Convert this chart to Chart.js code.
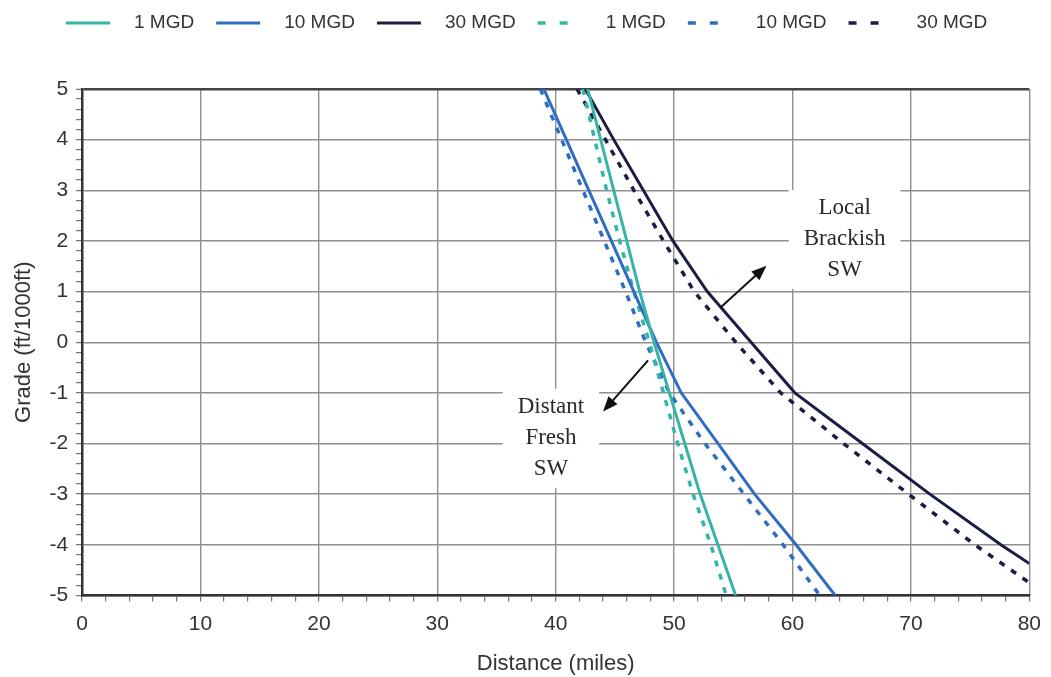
<!DOCTYPE html>
<html>
<head>
<meta charset="utf-8">
<title>Grade vs distance</title>
<script src="https://cdn.jsdelivr.net/npm/chart.js@4.4.1/dist/chart.umd.min.js"></script>
<style>
  body { margin: 0; background: #fff; }
  #chart { display: block; }
</style>
</head>
<body>
<canvas id="chart" width="1051" height="677"></canvas>
<script>
const gradeSteps = [5, 4, 3, 2, 1, 0, -1, -2, -3, -4, -5];

// distance (miles) for each grade step
const dist1Solid = [42.7, 43.8, 44.9, 46.0, 47.1, 48.3, 49.6, 50.9, 52.2, 53.7, 55.2];
const dist10Solid = [39.0, 40.9, 42.8, 44.7, 46.6, 48.5, 50.6, 53.7, 56.8, 60.3, 63.6];
const dist1Dashed = [42.3, 43.3, 44.3, 45.4, 46.6, 47.9, 49.1, 50.3, 51.6, 53.1, 54.4];
const dist10Dashed = [38.7, 40.5, 42.3, 44.1, 45.9, 47.6, 49.6, 52.6, 55.9, 59.2, 62.3];

// the 30 MGD curves leave the plot through the right edge
const grade30Solid = [5, 4, 3, 2, 1, 0, -1, -2, -3, -4, -4.37];
const dist30Solid = [42.5, 44.9, 47.4, 49.9, 52.8, 56.5, 60.2, 65.9, 71.6, 77.6, 80];
const grade30Dashed = [5, 4, 3, 2, 1, 0, -1, -2, -3, -4, -4.75];
const dist30Dashed = [41.8, 44.2, 46.6, 49.1, 51.7, 55.2, 59.0, 64.3, 69.8, 75.4, 80];

const seriesLabels = ['1 MGD', '10 MGD', '30 MGD', '1 MGD', '10 MGD', '30 MGD'];

// annotations, in data units
const localNote = { x: 64.4, y: 2.03, lines: ['Local', 'Brackish', 'SW'] };
const localArrow = { x0: 53.9, y0: 0.68, x1: 57.8, y1: 1.51 };
const distantNote = { x: 39.6, y: -1.9, lines: ['Distant', 'Fresh', 'SW'] };
const distantArrow = { x0: 47.8, y0: -0.36, x1: 44.0, y1: -1.37 };

const TEAL = '#35b5a8';
const BLUE = '#2f6dc2';
const NAVY = '#1b1e44';
const SANS = '"Liberation Sans", Arial, sans-serif';
const SERIF = '"Liberation Serif", "Times New Roman", serif';

function points(xs, ys) {
  return xs.map((x, i) => ({ x: x, y: ys[i] }));
}

function line(label, data, color, dashed) {
  return {
    label: label,
    data: data,
    showLine: true,
    borderColor: color,
    backgroundColor: color,
    borderWidth: dashed ? 3.5 : 3,
    borderDash: dashed ? [6, 8] : [],
    pointRadius: 0,
    tension: 0
  };
}

const isWhole = (v) => Math.abs(v - Math.round(v)) < 1e-6;

// legend drawn as short line swatches like the original figure
const lineLegend = {
  id: 'lineLegend',
  afterDraw(chart) {
    const ctx = chart.ctx;
    const y = 23;
    let x = 66;
    ctx.save();
    ctx.font = '19px ' + SANS;
    ctx.textBaseline = 'middle';
    chart.data.datasets.forEach((ds) => {
      ctx.strokeStyle = ds.borderColor;
      ctx.lineWidth = ds.borderWidth;
      // the swatch dashes are a little longer than in the plot
      ctx.setLineDash(ds.borderDash.length ? [8, 14] : []);
      ctx.beginPath();
      ctx.moveTo(x, y);
      ctx.lineTo(x + 44, y);
      ctx.stroke();
      x += 44 + 24;
      ctx.fillStyle = '#333';
      ctx.fillText(ds.label, x, y);
      x += ctx.measureText(ds.label).width + 22;
    });
    ctx.restore();
  }
};

function drawNoteBox(chart, note) {
  const ctx = chart.ctx;
  const cx = chart.scales.x.getPixelForValue(note.x);
  const cy = chart.scales.y.getPixelForValue(note.y);
  const lh = 31;
  ctx.font = '23px ' + SERIF;
  const w = Math.max(...note.lines.map((t) => ctx.measureText(t).width)) + 30;
  const h = lh * note.lines.length + 6;
  ctx.fillStyle = '#fff';
  ctx.fillRect(cx - w / 2, cy - h / 2, w, h);
}

function drawNoteText(chart, note) {
  const ctx = chart.ctx;
  const cx = chart.scales.x.getPixelForValue(note.x);
  const cy = chart.scales.y.getPixelForValue(note.y);
  const lh = 31;
  ctx.font = '23px ' + SERIF;
  ctx.fillStyle = '#2a2a2a';
  ctx.textAlign = 'center';
  ctx.textBaseline = 'middle';
  note.lines.forEach((t, i) => {
    ctx.fillText(t, cx, cy + (i - (note.lines.length - 1) / 2) * lh);
  });
}

function drawArrow(chart, a) {
  const ctx = chart.ctx;
  const x0 = chart.scales.x.getPixelForValue(a.x0);
  const y0 = chart.scales.y.getPixelForValue(a.y0);
  const x1 = chart.scales.x.getPixelForValue(a.x1);
  const y1 = chart.scales.y.getPixelForValue(a.y1);
  const ang = Math.atan2(y1 - y0, x1 - x0);
  const len = 15, half = 6;
  ctx.strokeStyle = '#111';
  ctx.fillStyle = '#111';
  ctx.lineWidth = 2;
  ctx.setLineDash([]);
  ctx.beginPath();
  ctx.moveTo(x0, y0);
  ctx.lineTo(x1 - Math.cos(ang) * len * 0.8, y1 - Math.sin(ang) * len * 0.8);
  ctx.stroke();
  ctx.beginPath();
  ctx.moveTo(x1, y1);
  ctx.lineTo(x1 - Math.cos(ang) * len - Math.sin(ang) * half, y1 - Math.sin(ang) * len + Math.cos(ang) * half);
  ctx.lineTo(x1 - Math.cos(ang) * len + Math.sin(ang) * half, y1 - Math.sin(ang) * len - Math.cos(ang) * half);
  ctx.closePath();
  ctx.fill();
}

const notes = {
  id: 'notes',
  beforeDatasetsDraw(chart) {
    chart.ctx.save();
    drawNoteBox(chart, localNote);
    drawNoteBox(chart, distantNote);
    chart.ctx.restore();
  },
  afterDatasetsDraw(chart) {
    const ctx = chart.ctx;
    ctx.save();
    drawNoteText(chart, localNote);
    drawNoteText(chart, distantNote);
    drawArrow(chart, localArrow);
    drawArrow(chart, distantArrow);
    ctx.restore();
  }
};

new Chart(document.getElementById('chart'), {
  type: 'scatter',
  data: {
    datasets: [
      line(seriesLabels[0], points(dist1Solid, gradeSteps), TEAL, false),
      line(seriesLabels[1], points(dist10Solid, gradeSteps), BLUE, false),
      line(seriesLabels[2], points(dist30Solid, grade30Solid), NAVY, false),
      line(seriesLabels[3], points(dist1Dashed, gradeSteps), TEAL, true),
      line(seriesLabels[4], points(dist10Dashed, gradeSteps), BLUE, true),
      line(seriesLabels[5], points(dist30Dashed, grade30Dashed), NAVY, true)
    ]
  },
  options: {
    responsive: false,
    devicePixelRatio: 1,
    animation: false,
    layout: { padding: { top: 89, right: 0, left: 11, bottom: 0 } },
    plugins: {
      legend: { display: false },
      tooltip: { enabled: false }
    },
    scales: {
      x: {
        type: 'linear',
        min: 0,
        max: 80,
        ticks: {
          stepSize: 2,
          autoSkip: false,
          maxRotation: 0,
          padding: 10,
          color: '#333',
          font: { family: SANS, size: 21 },
          callback: (v) => (v % 10 === 0 ? v : '')
        },
        grid: {
          color: (c) => (c.tick && c.tick.value % 10 === 0 ? '#909090' : 'rgba(0,0,0,0)'),
          lineWidth: 1.4,
          tickColor: '#555',
          tickLength: 6,
          tickWidth: 1
        },
        border: { color: '#333', width: 2.5 },
        title: {
          display: true,
          text: 'Distance (miles)',
          color: '#333',
          font: { family: SANS, size: 22 },
          padding: { top: 4, bottom: 0 }
        }
      },
      y: {
        type: 'linear',
        min: -5,
        max: 5,
        ticks: {
          stepSize: 0.2,
          autoSkip: false,
          padding: 8,
          color: '#333',
          font: { family: SANS, size: 21 },
          callback: (v) => (isWhole(v) ? String(Math.round(v)) : '')
        },
        grid: {
          color: (c) => {
            if (!c.tick || !isWhole(c.tick.value)) return 'rgba(0,0,0,0)';
            return Math.round(c.tick.value) === 5 ? '#444' : '#909090';
          },
          lineWidth: (c) => (c.tick && Math.round(c.tick.value * 10) === 50 ? 2.5 : 1.4),
          tickColor: '#555',
          tickLength: 6,
          tickWidth: 1
        },
        border: { color: '#333', width: 2.5 },
        title: {
          display: true,
          text: 'Grade (ft/1000ft)',
          color: '#333',
          font: { family: SANS, size: 22 },
          padding: { top: 0, bottom: 4 }
        }
      }
    }
  },
  plugins: [lineLegend, notes]
});
</script>
</body>
</html>
